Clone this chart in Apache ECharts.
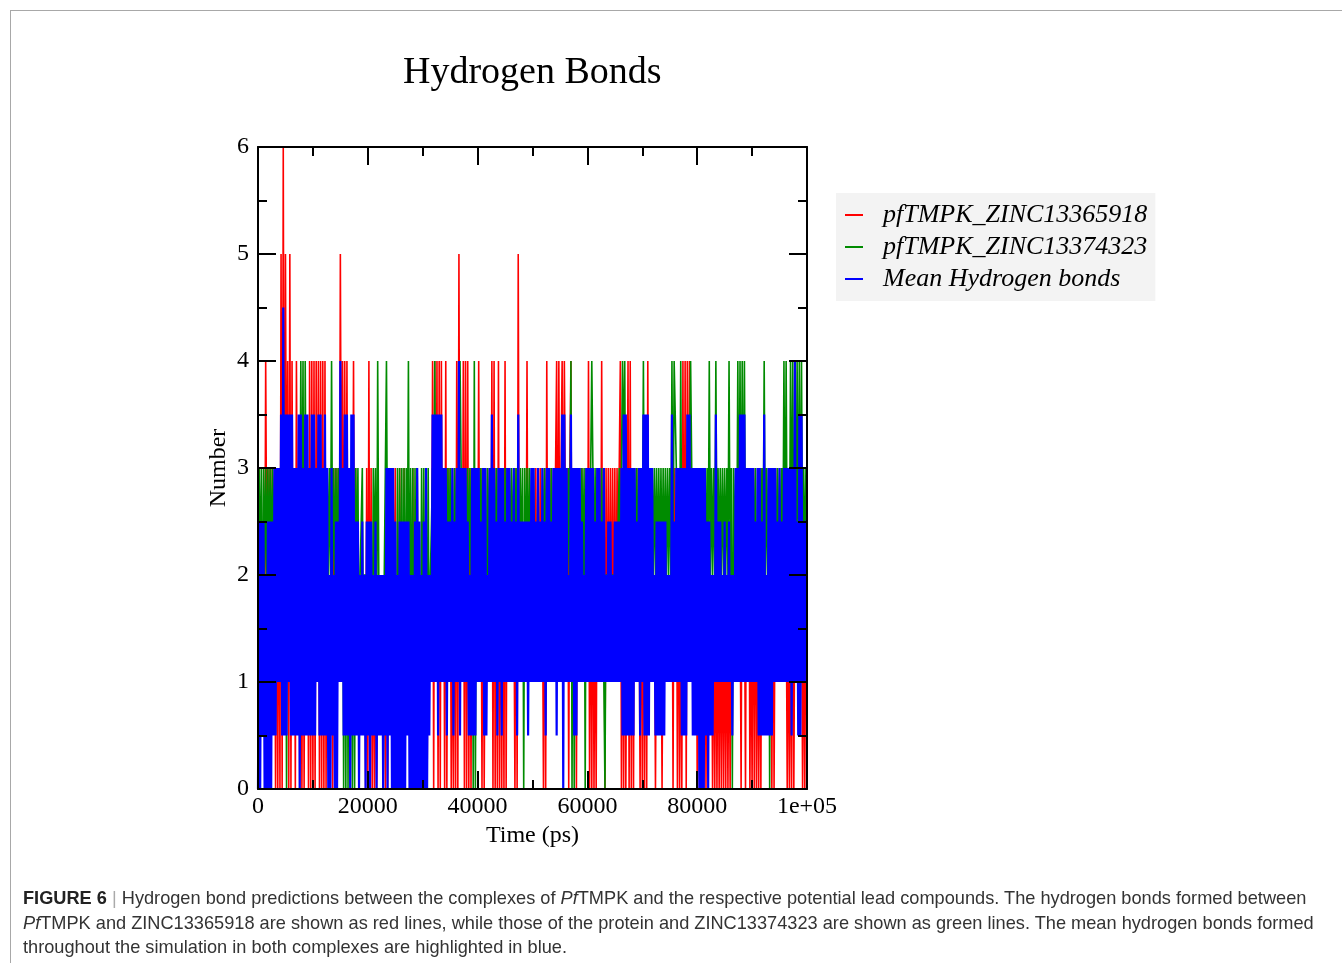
<!DOCTYPE html>
<html>
<head>
<meta charset="utf-8">
<title>Hydrogen Bonds</title>
<script src="https://cdn.jsdelivr.net/npm/echarts@6/dist/echarts.min.js"></script>
<style>
  html, body { margin: 0; padding: 0; background: #fff; }
  #page { position: relative; width: 1342px; height: 963px; overflow: hidden; }
  #frame { position: absolute; left: 10px; top: 10px; width: 1340px; height: 960px;
           border-top: 1px solid #a8a8a8; border-left: 1px solid #a8a8a8; }
  #chart { position: absolute; left: 0; top: 0; width: 1342px; height: 963px; }
  #caption { position: absolute; left: 23px; top: 886px; font-family: "Liberation Sans", Arial, sans-serif;
             font-size: 18.2px; line-height: 24.6px; color: #333; white-space: nowrap; }
  #caption b { color: #222; }
  #caption .bar { color: #aaa; }
</style>
</head>
<body>
<div id="page">
  <div id="frame"></div>
  <div id="chart"></div>
  <div id="caption">
    <b>FIGURE 6</b> <span class="bar">|</span> Hydrogen bond predictions between the complexes of <i>Pf</i>TMPK and the respective potential lead compounds. The hydrogen bonds formed between<br>
    <i>Pf</i>TMPK and ZINC13365918 are shown as red lines, while those of the protein and ZINC13374323 are shown as green lines. The mean hydrogen bonds formed<br>
    throughout the simulation in both complexes are highlighted in blue.
  </div>
</div>
<script>
// one frame every 200 ps, 0 .. 100000 ps
var timeStep = 200
var seriesNames = ['pfTMPK_ZINC13365918', 'pfTMPK_ZINC13374323', 'Mean Hydrogen bonds']
var xTicks = [0, 20000, 40000, 60000, 80000, 100000]

// pfTMPK_ZINC13365918 (red)
var red = [
  2,3,1,2,2,2,1,4,2,3, 2,3,1,3,2,3,0,3,0,3, 0,5,0,6,1,5,2,4,0,5, 0,4,1,3,0,4,2,3,0,3, 0,3,0,3,1,3,0,4,0,4,
  0,4,0,4,1,4,0,4,0,4, 0,4,0,3,1,2,1,3,0,3, 0,3,1,3,1,5,2,4,1,4, 1,4,1,3,1,3,1,4,1,3, 1,2,1,2,1,2,1,2,0,3,
  0,4,0,3,0,2,0,2,0,2, 1,2,1,2,1,2,0,3,0,3, 1,3,1,3,1,3,1,2,1,3, 1,2,1,3,1,2,1,2,1,2, 1,3,1,2,1,3,0,2,1,2,
  1,2,0,3,0,2,1,2,1,4, 0,4,1,4,0,4,0,4,1,3, 0,4,0,3,1,3,0,2,0,3, 0,4,0,5,1,3,1,4,0,4, 0,4,0,3,0,3,1,2,1,3,
  1,4,1,3,0,3,0,2,1,3, 1,3,1,4,0,4,0,3,0,4, 0,3,0,3,0,4,0,3,1,2, 1,2,1,2,0,3,0,5,1,2, 1,2,1,2,1,4,1,2,1,2,
  1,2,1,3,1,2,1,3,1,2, 0,3,0,4,1,2,1,3,1,3, 1,3,4,1,4,1,3,4,1,4, 4,1,3,0,3,4,1,3,1,3, 0,3,1,2,1,3,1,2,1,3,
  1,4,0,3,0,3,0,2,0,3, 1,3,1,4,1,3,0,3,1,3, 1,3,1,3,1,3,1,3,2,3, 4,0,3,0,3,0,2,4,0,4, 0,3,0,3,1,3,1,2,0,3,
  0,3,0,3,0,4,1,3,1,3, 1,2,0,2,1,2,1,2,0,2, 1,2,1,2,1,2,1,3,0,3, 1,3,0,3,0,2,0,4,1,4, 0,4,1,4,1,3,1,2,1,3,
  0,3,0,2,0,2,0,3,0,2, 1,2,1,2,0,2,0,2,0,2, 0,2,0,2,0,2,0,2,0,2, 0,2,1,2,1,2,1,2,1,2, 0,3,1,2,0,3,1,3,0,2,
  0,3,0,3,0,2,0,2,0,3, 1,3,1,2,1,3,1,2,0,3, 0,2,1,3,1,2,1,3,1,2, 1,2,0,2,0,2,0,3,0,2, 1,2,1,2,1,2,0,2,0,2,
  2
]

// pfTMPK_ZINC13374323 (green)
var green = [
  2,3,2,3,1,3,2,3,2,3, 2,3,2,3,2,3,1,3,1,3, 2,3,1,4,2,3,0,3,1,3, 1,3,2,3,1,3,2,3,2,4, 2,4,1,4,2,3,2,3,1,3,
  2,3,2,3,1,3,2,3,2,3, 2,3,1,3,2,3,2,4,2,3, 2,3,2,3,2,3,2,3,0,3, 0,3,0,3,0,3,0,3,0,3, 2,3,1,2,2,3,1,2,2,2,
  2,2,2,2,1,3,2,3,1,4, 2,2,1,2,0,2,2,4,2,3, 2,3,0,3,1,2,0,3,0,3, 1,3,1,3,1,3,2,4,1,3, 1,3,0,3,1,3,1,2,1,3,
  1,3,1,2,1,3,1,2,2,3, 2,4,2,3,1,3,2,3,2,3, 2,3,1,3,2,3,2,3,1,3, 2,3,2,3,4,3,2,3,1,3, 2,3,2,3,2,3,0,4,0,3,
  2,3,2,3,2,3,1,3,1,3, 2,3,2,3,2,3,2,3,1,3, 2,3,2,3,1,3,2,3,2,3, 2,3,2,3,2,3,2,3,2,3, 2,3,0,3,2,3,2,3,2,3,
  2,3,2,2,2,3,2,2,2,3, 2,3,2,3,2,2,2,3,2,2, 2,2,2,3,2,2,2,3,2,2, 2,3,2,3,2,4,0,3,0,3, 2,3,2,3,2,3,2,3,0,3,
  2,3,2,3,4,3,2,3,2,3, 2,2,2,3,2,2,0,2,2,2, 2,2,2,2,2,2,2,2,2,3, 2,3,4,3,4,2,2,3,2,3, 2,3,2,3,2,3,2,3,2,3,
  2,4,2,3,2,3,2,3,2,3, 2,3,2,3,2,3,2,3,2,3, 2,3,2,3,2,3,2,4,2,4, 4,3,2,3,2,4,2,3,2,3, 2,3,2,3,4,4,2,3,2,3,
  2,3,2,2,2,3,2,3,2,3, 2,4,2,3,2,3,2,4,2,3, 2,3,2,3,2,3,2,3,2,4, 2,3,0,3,2,3,2,4,2,4, 2,4,2,4,2,3,2,3,2,3,
  2,3,2,3,2,2,2,3,2,3, 2,4,2,3,2,3,0,3,2,3, 2,3,2,3,2,3,2,3,2,4, 2,4,2,3,2,4,2,4,2,3, 2,4,2,4,2,4,2,3,2,3,
  3
]

// Mean Hydrogen bonds (blue)
var mean = [
  0,2.5,0,2.5,0.5,2.5,0,2,0,2.5, 0,2.5,0,2.5,0.5,3,0.5,3,1,3, 1,3.5,0.5,4.5,0.5,3.5,0.5,3.5,1,3.5, 0.5,3.5,0.5,3,0.5,3,0.5,3.5,0,3.5, 0.5,3,0.5,3.5,0.5,3.5,0.5,3,0.5,3.5,
  0.5,3.5,0.5,3,1,3.5,0.5,3.5,0.5,3, 0.5,3.5,0.5,3,0,2,0,3,0.5,2, 0,2.5,0,2.5,1,4,1,3,0.5,3.5, 0.5,3.5,0.5,3,0,3.5,0.5,3.5,0.5,2.5, 0.5,2.5,0,2,0.5,2.5,0.5,2,0,2.5,
  0.5,2.5,0,2.5,0.5,2,0.5,2.5,0,2, 0.5,2,0.5,2,0,2,0.5,3,0,3, 0.5,3,0,3,0,2.5,0,2,0,2.5, 0,2.5,0,2.5,0,2.5,0.5,2.5,0,2, 0,2,0,2.5,0,3,0,2.5,0,2,
  0,2.5,0,3,0,2,0.5,2,1,3.5, 1,3.5,1,3.5,0.5,3.5,1,3.5,1,3, 1,3,0.5,2.5,1,2.5,1,3,0.5,2.5, 1,3,1,4,0.5,3,1,3,1,3, 1,2.5,0.5,2,0.5,3,0.5,3,0.5,3,
  1,3,1,2.5,1,3,0.5,3,0.5,2, 1,3,1,3.5,1,3,1,2.5,0.5,3, 1,3,0.5,3,1,2.5,1,3,1,3, 1,2.5,1,3,1,2.5,0.5,3.5,1,2.5, 1,2.5,1,2.5,1,2.5,0.5,2.5,1,3,
  1,3,1,2.5,1,3,1,2.5,1,3, 1,2.5,0.5,3,1,3,1,2.5,1,3, 1,3,0.5,3,1,3,1,3.5,0,3.5, 1,3,1,2,1,3.5,1,3,0.5,3, 0.5,3,1,3,1,2.5,1,2,1,3,
  1,3,1,3,1,3,1,2.5,1,3, 1,3,1,2.5,1,3,1,2,1,2.5, 1,2.5,1,2,1,2.5,1,2.5,1,2.5, 1,3,0.5,3.5,0.5,3.5,0.5,3,0.5,3, 0.5,3,0.5,3,1,2.5,1,3,0.5,3,
  1,3.5,0.5,3.5,0.5,3.5,0.5,3,1,3, 1,2,0.5,2.5,0.5,2.5,0.5,2.5,0.5,2.5, 0.5,2.5,1,2,1,2,1,3.5,1,2.5, 1,3,1,3,1,3,0.5,3,0.5,3, 0.5,3.5,1,3.5,1,3,0.5,3,0.5,3,
  0.5,3,0,3,0,3,0,3,0.5,2.5, 0,2.5,0.5,2,0.5,2,1,3.5,1,2.5, 1,2.5,1,2,1,2.5,1,2,1,2.5, 1,2,0.5,2,1,3,1,3,1,3.5, 1,3.5,1,3.5,1,3,1,3,1,3,
  1,3,1,2.5,1,3,0.5,3,0.5,2.5, 0.5,3.5,0.5,2,0.5,3,0.5,3,0.5,3, 1,3,1,2.5,1,3,1,2.5,1,3, 1,3,1,3,1,3,0.5,3,1,4, 1,2.5,0.5,3.5,0.5,3.5,1,2.5,1,2.5,
  2.5
]

var serif = '"Liberation Serif", "Times New Roman", serif'

function toPairs(arr) {
  return arr.map(function (v, i) { return [i * timeStep, v] })
}

function frameAxis(extra) {
  // xmgrace style frame: inward ticks on all four sides
  return Object.assign({
    type: 'value',
    z: 10,
    splitLine: { show: false },
    axisLine: { show: true, onZero: false, lineStyle: { color: '#000', width: 2 } },
    axisTick: { show: true, inside: true, length: 18, lineStyle: { color: '#000', width: 2 } },
    minorTick: { show: true, splitNumber: 2, length: 9, lineStyle: { color: '#000', width: 2 } }
  }, extra)
}

var chart = echarts.init(document.getElementById('chart'), null, { renderer: 'canvas' })
var colors = ['#ff0000', '#008b00', '#0000ff']
var widths = [1.6, 1.6, 2.2]
var dataSets = [red, green, mean]

chart.setOption({
  animation: false,
  title: {
    text: 'Hydrogen Bonds',
    left: 403,
    top: 54,
    padding: 0,
    textStyle: { fontFamily: serif, fontSize: 38, fontWeight: 'normal', color: '#000' }
  },
  legend: {
    orient: 'vertical',
    left: 836,
    top: 193,
    padding: [9, 8, 9, 9],
    backgroundColor: '#f3f3f3',
    itemGap: 6,
    itemWidth: 18,
    itemHeight: 2,
    icon: 'rect',
    data: seriesNames,
    textStyle: { fontFamily: serif, fontStyle: 'italic', fontSize: 26, color: '#000', padding: [0, 0, 0, 15] }
  },
  grid: { left: 258, top: 147, width: 549, height: 642 },
  xAxis: [
    frameAxis({
      position: 'bottom',
      min: 0, max: 100000, interval: 20000,
      name: 'Time (ps)',
      nameLocation: 'middle',
      nameGap: 34,
      nameTextStyle: { fontFamily: serif, fontSize: 24, color: '#000' },
      axisLabel: {
        fontFamily: serif, fontSize: 24, color: '#000', margin: 6,
        formatter: function (v) { return v === xTicks[xTicks.length - 1] ? '1e+05' : String(v) }
      }
    }),
    frameAxis({ position: 'top', min: 0, max: 100000, interval: 20000, axisLabel: { show: false } })
  ],
  yAxis: [
    frameAxis({
      position: 'left',
      min: 0, max: 6, interval: 1,
      name: 'Number',
      nameLocation: 'middle',
      nameRotate: 90,
      nameGap: 27,
      nameTextStyle: { fontFamily: serif, fontSize: 24, color: '#000' },
      axisLabel: { fontFamily: serif, fontSize: 24, color: '#000', margin: 9 }
    }),
    frameAxis({ position: 'right', min: 0, max: 6, interval: 1, axisLabel: { show: false } })
  ],
  series: seriesNames.map(function (name, k) {
    return {
      name: name,
      type: 'line',
      xAxisIndex: 0,
      yAxisIndex: 0,
      z: 2 + k,
      showSymbol: false,
      symbol: 'none',
      color: colors[k],
      lineStyle: { color: colors[k], width: widths[k], join: 'miter' },
      data: toPairs(dataSets[k])
    }
  })
})
</script>
</body>
</html>
